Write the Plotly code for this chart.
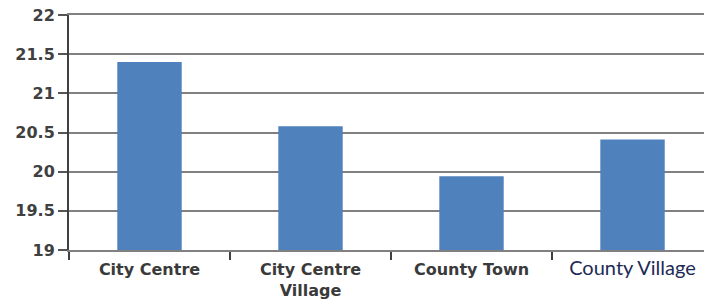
import plotly.graph_objects as go

categories = ["City Centre", "City Centre Village", "County Town", "County Village"]
tick_labels = ["City Centre", "City Centre<br>Village", "County Town",
               "<span style='font-family:Lato;font-weight:normal;font-size:20px;color:#1c2a55'>County Village</span>"]
values = [21.40, 20.58, 19.94, 20.41]
y_ticks = [19, 19.5, 20, 20.5, 21, 21.5, 22]
y_ticktext = ["19", "19.5", "20", "20.5", "21", "21.5", "22"]

fig = go.Figure(go.Bar(
    x=categories, y=values, marker_color="#4F81BD",
    marker_line_width=0, width=0.4,
))

fig.update_layout(
    width=704, height=299,
    margin=dict(l=69, r=0, t=15, b=49),
    paper_bgcolor="white", plot_bgcolor="white",
    showlegend=False,
)
fig.update_xaxes(
    type="category", range=[-0.5, 3.444],
    tickvals=categories, ticktext=tick_labels,
    tickson="boundaries", ticks="outside", ticklen=8, tickwidth=2, tickcolor="#404040",
    ticklabelstandoff=4,
    showline=True, mirror=True, linecolor="#808080", linewidth=2,
    showgrid=False, automargin=False,
    tickfont=dict(family="DejaVu Sans", size=16, color="#3a3a3a", weight="bold"),
)
fig.update_yaxes(
    range=[19, 22], tickvals=y_ticks, ticktext=y_ticktext,
    ticks="outside", ticklen=9, tickwidth=2, tickcolor="#555555",
    showline=True, linecolor="#404040", linewidth=2,
    showgrid=True, gridcolor="#808080", gridwidth=2,
    zeroline=False, automargin=False,
    tickfont=dict(family="DejaVu Sans", size=16, color="#404040", weight="bold"),
)

fig.write_html("out.html", config={"displayModeBar": False},
               post_script="document.body.style.margin='0';")
